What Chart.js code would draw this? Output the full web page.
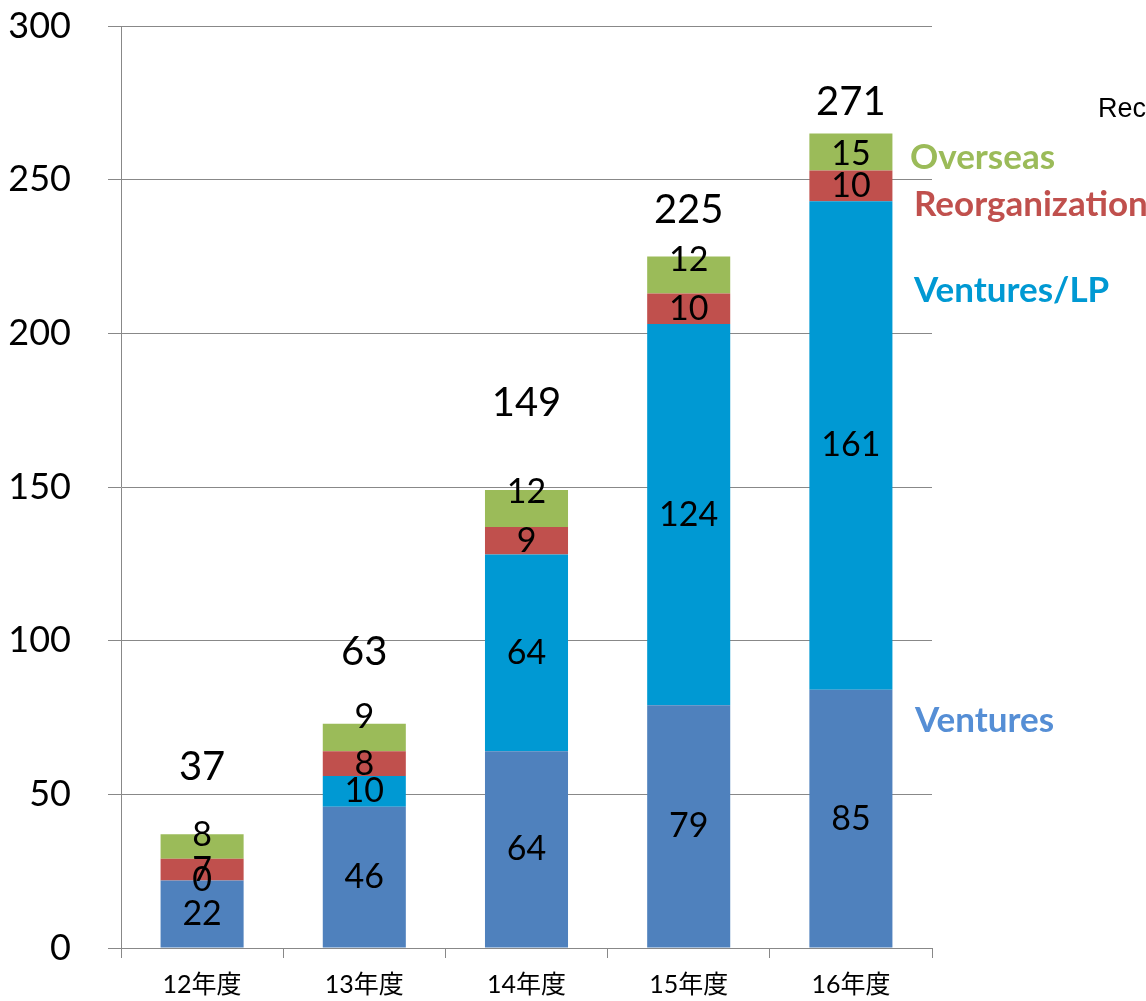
<!DOCTYPE html>
<html>
<head>
<meta charset="utf-8">
<script src="https://cdn.jsdelivr.net/npm/chart.js@4.4.1/dist/chart.umd.min.js"></script>
<style>
  html, body { margin: 0; padding: 0; background: #fff; }
  #wrap { width: 1146px; height: 1001px; position: relative; }
</style>
</head>
<body>
<div id="wrap"><canvas id="chart" width="1146" height="1001"></canvas></div>
<script>
// categories + stacked segment heights (as drawn)
const years = ["12年度", "13年度", "14年度", "15年度", "16年度"];
const ventures = [22, 46, 64, 79, 84];
const venturesLP = [0, 10, 64, 124, 159];
const reorganization = [7, 8, 9, 10, 10];
const overseas = [8, 9, 12, 12, 12];

// text printed on the segments / above the bars
const venturesText = ["22", "46", "64", "79", "85"];
const venturesLPText = ["0", "10", "64", "124", "161"];
const reorgText = ["7", "8", "9", "10", "10"];
const overseasText = ["8", "9", "12", "12", "15"];
const totalText = ["37", "63", "149", "225", "271"];

// where the free-floating labels sit, in axis units
const overseasTextAt = [36.8, 75.2, 148.4, 223.9, 258.4];
const totalTextAt = [58.9, 96.3, 177.3, 240.1, 275.3];

const yTicks = [0, 50, 100, 150, 200, 250, 300];

const GRAY = "#888888";
const COLORS = { ventures: "#4F81BD", lp: "#0099D3", reorg: "#C0504D", overseas: "#9BBB59" };

const sideLabels = [
  { text: "Overseas", at: 257, dx: -22, color: COLORS.overseas },
  { text: "Reorganization", at: 242, dx: -18, color: COLORS.reorg },
  { text: "Ventures/LP", at: 214, dx: -18, color: COLORS.lp },
  { text: "Ventures", at: 74, dx: -17, color: "#558ED5" },
];

const labelPlugin = {
  id: "labels",
  afterDatasetsDraw(chart) {
    const { ctx, scales: { y }, chartArea } = chart;
    const texts = [venturesText, venturesLPText, reorgText, overseasText];
    ctx.save();
    ctx.textAlign = "center";
    ctx.textBaseline = "middle";
    ctx.fillStyle = "#000";
    ctx.font = "34px Lato, sans-serif";
    chart.data.datasets.forEach((ds, i) => {
      chart.getDatasetMeta(i).data.forEach((bar, j) => {
        let cy = (bar.y + bar.base) / 2;
        if (i === 3) cy = y.getPixelForValue(overseasTextAt[j]);
        ctx.fillText(texts[i][j], bar.x, cy);
      });
    });
    // totals
    ctx.font = "40px Lato, sans-serif";
    chart.getDatasetMeta(0).data.forEach((bar, j) => {
      ctx.fillText(totalText[j], bar.x, y.getPixelForValue(totalTextAt[j]));
    });
    // series names on the right
    ctx.textAlign = "left";
    ctx.font = "bold 35px Lato, sans-serif";
    sideLabels.forEach((s) => {
      ctx.fillStyle = s.color;
      ctx.fillText(s.text, chartArea.right + s.dx, y.getPixelForValue(s.at));
    });
    ctx.fillStyle = "#000";
    ctx.font = "27px 'Liberation Sans', Arial, sans-serif";
    ctx.fillText("Rec", chartArea.right + 166, y.getPixelForValue(272.7));
    ctx.restore();
  },
};

new Chart(document.getElementById("chart"), {
  type: "bar",
  data: {
    labels: years,
    datasets: [
      { label: "Ventures", data: ventures, backgroundColor: COLORS.ventures },
      { label: "Ventures/LP", data: venturesLP, backgroundColor: COLORS.lp },
      { label: "Reorganization", data: reorganization, backgroundColor: COLORS.reorg },
      { label: "Overseas", data: overseas, backgroundColor: COLORS.overseas },
    ],
  },
  options: {
    responsive: false,
    animation: false,
    layout: { padding: { top: 26, right: 214, left: 0, bottom: 0 } },
    plugins: { legend: { display: false }, tooltip: { enabled: false } },
    datasets: { bar: { categoryPercentage: 1, barPercentage: 0.512, borderWidth: 0 } },
    scales: {
      x: {
        stacked: true,
        afterFit: (s) => { s.height = 53; s.paddingLeft = 0; s.paddingRight = 0; },
        grid: { drawOnChartArea: false, drawTicks: true, tickLength: 10, color: GRAY, offset: true },
        border: { display: true, color: GRAY, width: 1 },
        ticks: { color: "#000", padding: 12, font: { family: "Lato, 'Noto Sans CJK JP', sans-serif", size: 25 } },
      },
      y: {
        stacked: true,
        min: 0, max: 300,
        afterFit: (s) => { s.width = 121; s.paddingTop = 0; s.paddingBottom = 0; },
        afterBuildTicks: (s) => { s.ticks = yTicks.map((v) => ({ value: v })); },
        grid: { color: GRAY, tickLength: 13, drawTicks: true },
        border: { display: true, color: GRAY, width: 1 },
        ticks: { color: "#000", padding: 37, font: { family: "Lato, sans-serif", size: 36 } },
      },
    },
  },
  plugins: [labelPlugin],
});
</script>
</body>
</html>
